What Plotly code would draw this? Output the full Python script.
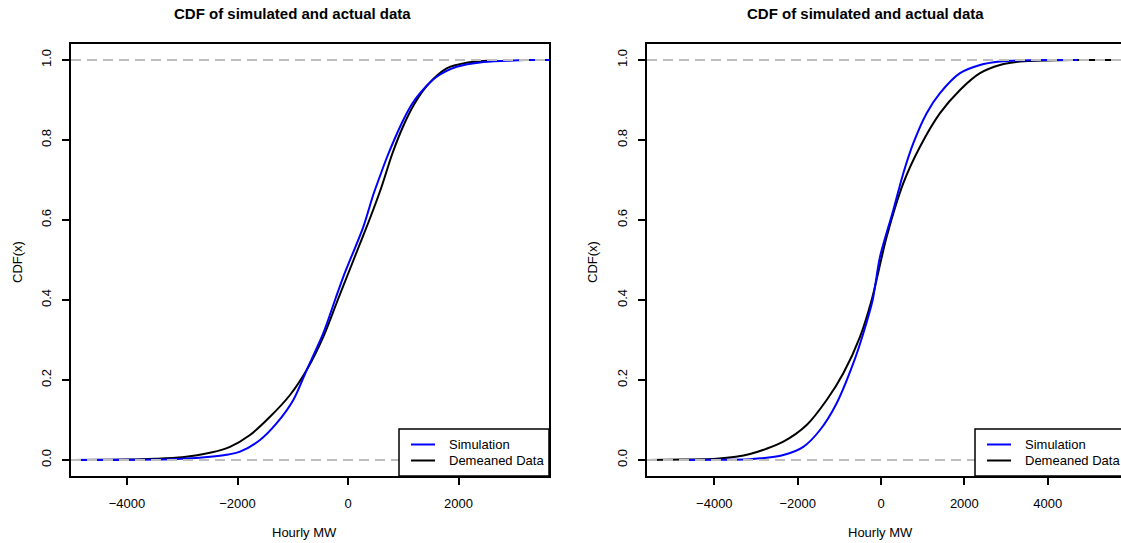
import plotly.graph_objects as go

W, H = 1121, 543

# ---------------- data ----------------
# Left panel
left_sim_x = [-5000, -4000, -3500, -3000, -2498, -2200, -1955, -1593, -1291, -990, -748, -447, -235, -85, 277, 450, 579, 700, 851, 1001, 1150, 1303, 1605, 1967, 2389, 2872, 3200, 3640]
left_sim_y = [0.0, 0.0005, 0.001, 0.003, 0.008, 0.013, 0.021, 0.05, 0.092, 0.15, 0.225, 0.317, 0.40, 0.458, 0.583, 0.66, 0.71, 0.755, 0.805, 0.85, 0.888, 0.917, 0.958, 0.983, 0.994, 0.998, 1.0, 1.0]
left_dat_x = [-5000, -4000, -3500, -3000, -2500, -2136, -1774, -1412, -1050, -748, -447, -200, 0, 200, 400, 600, 800, 1000, 1200, 1424, 1786, 2148, 2510, 2700]
left_dat_y = [0.0, 0.001, 0.003, 0.007, 0.018, 0.033, 0.0625, 0.108, 0.1625, 0.225, 0.308, 0.395, 0.465, 0.535, 0.605, 0.68, 0.765, 0.835, 0.89, 0.935, 0.979, 0.993, 0.998, 1.0]

# Right panel
right_sim_x = [-4744, -3944, -3144, -2344, -1864, -1464, -1064, -664, -424, -200, -24, 296, 536, 776, 1096, 1416, 1896, 2376, 2856, 3336, 4000, 4700]
right_sim_y = [0.0, 0.0008, 0.002, 0.0125, 0.033, 0.075, 0.142, 0.242, 0.317, 0.40, 0.508, 0.625, 0.717, 0.792, 0.867, 0.917, 0.967, 0.9875, 0.996, 0.999, 1.0, 1.0]
right_dat_x = [-5600, -4744, -3944, -3144, -2344, -1784, -1304, -904, -504, -224, 136, 536, 936, 1416, 1896, 2376, 2856, 3336, 3976, 4600, 5800]
right_dat_y = [0.0, 0.001, 0.003, 0.015, 0.046, 0.0875, 0.15, 0.217, 0.308, 0.40, 0.558, 0.692, 0.783, 0.867, 0.925, 0.967, 0.9875, 0.996, 0.999, 1.0, 1.0]

title_text = "CDF of simulated and actual data"
x_label = "Hourly MW"
y_label = "CDF(x)"
legend_labels = ["Simulation", "Demeaned Data"]
series_colors = ["#0000FF", "#000000"]

left_xticks = [-4000, -2000, 0, 2000]
right_xticks = [-4000, -2000, 0, 2000, 4000]
yticks = [0.0, 0.2, 0.4, 0.6, 0.8, 1.0]

# ---------------- helpers ----------------
def px(x):
    return x / W

def py(y):
    return 1 - y / H

FONT = "Liberation Sans, Arial, sans-serif"

fig = go.Figure()

def curve(x, y, col, xa, ya):
    return go.Scatter(x=x, y=y, mode="lines", line=dict(color=col, width=2, shape="spline", smoothing=0.8),
                      xaxis=xa, yaxis=ya, showlegend=False, hoverinfo="skip")

# black (data) first, then blue (simulation)
fig.add_trace(curve(left_dat_x, left_dat_y, series_colors[1], "x", "y"))
fig.add_trace(curve(left_sim_x, left_sim_y, series_colors[0], "x", "y"))
fig.add_trace(curve(right_dat_x, right_dat_y, series_colors[1], "x2", "y2"))
fig.add_trace(curve(right_sim_x, right_sim_y, series_colors[0], "x2", "y2"))

# gray dashed reference lines at 0 and 1 (drawn on top)
for xr, yr in [("x", "y"), ("x2", "y2")]:
    for h in [0, 1]:
        fig.add_shape(type="line", xref=f"{xr} domain", yref=yr, x0=0, x1=1, y0=h, y1=h,
                      line=dict(color="#BEBEBE", width=2, dash="10px,6px"), layer="above")

ydom = [py(476), py(44)]
common_axis = dict(showgrid=False, zeroline=False, ticks="outside", ticklen=7, tickwidth=1.5,
                   tickcolor="black", linecolor="black", linewidth=1.5, showline=True,
                   tickfont=dict(family=FONT, size=13, color="black"))

fig.update_layout(
    width=W, height=H,
    margin=dict(l=0, r=0, t=0, b=0),
    paper_bgcolor="white", plot_bgcolor="white",
    xaxis=dict(domain=[px(71), px(549)], range=[-5014, 3638], tickvals=left_xticks,
               mirror=True, anchor="y", ticklabelstandoff=8, **common_axis),
    yaxis=dict(domain=ydom, range=[-0.04, 1.04], tickvals=yticks, ticktext=[f"{v:.1f}" for v in yticks],
               tickangle=-90, mirror=True, anchor="x", ticklabelstandoff=6, **common_axis),
    xaxis2=dict(domain=[px(647), 1.0], range=[-5616, 5760], tickvals=right_xticks,
                mirror=True, anchor="y2", ticklabelstandoff=8, **common_axis),
    yaxis2=dict(domain=ydom, range=[-0.04, 1.04], tickvals=yticks, ticktext=[f"{v:.1f}" for v in yticks],
                tickangle=-90, mirror=False, anchor="x2", ticklabelstandoff=6, **common_axis),
)

# titles and axis labels
for cx in [292, 866]:
    fig.add_annotation(text=f"<b>{title_text}</b>", x=px(cx), y=py(13), xref="paper", yref="paper",
                       showarrow=False, font=dict(family=FONT, size=15, color="black"),
                       xanchor="center", yanchor="middle")
for cx in [304, 880]:
    fig.add_annotation(text=x_label, x=px(cx), y=py(532), xref="paper", yref="paper",
                       showarrow=False, font=dict(family=FONT, size=13, color="black"),
                       xanchor="center", yanchor="middle")
for cx in [17, 592]:
    fig.add_annotation(text=y_label, x=px(cx), y=py(262), xref="paper", yref="paper",
                       showarrow=False, textangle=-90, font=dict(family=FONT, size=13, color="black"),
                       xanchor="center", yanchor="middle")

# legends (drawn manually so the right one can run off the edge like the reference)
for bx0, bx1, lx0, lx1, tx in [(399, 549, 411, 435, 447), (975, 1125, 987, 1011, 1023)]:
    fig.add_shape(type="rect", xref="paper", yref="paper", x0=px(bx0), x1=px(bx1), y0=py(476), y1=py(429),
                  line=dict(color="black", width=1.5), fillcolor="white", layer="above")
    for i, (lab, col) in enumerate(zip(legend_labels, series_colors)):
        yy = 444.5 + 16 * i
        fig.add_shape(type="line", xref="paper", yref="paper", x0=px(lx0), x1=px(lx1), y0=py(yy), y1=py(yy),
                      line=dict(color=col, width=2), layer="above")
        fig.add_annotation(text=lab, x=px(tx), y=py(yy), xref="paper", yref="paper", showarrow=False,
                           xanchor="left", yanchor="middle", font=dict(family=FONT, size=13, color="black"))

fig.write_html("out.html")
